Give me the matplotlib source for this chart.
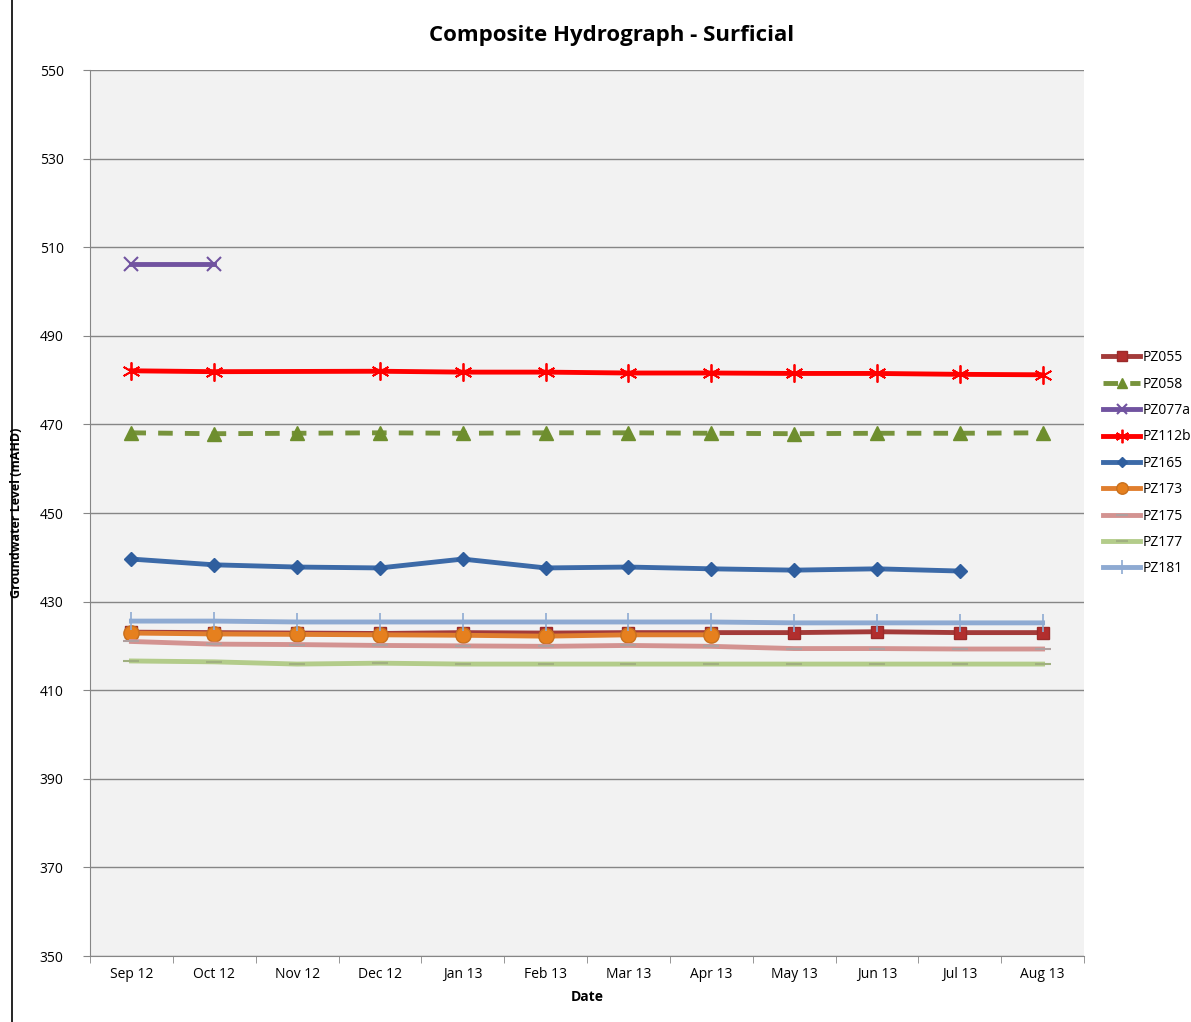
import matplotlib.pyplot as plt
from matplotlib.lines import Line2D

dates = ['Sep 12', 'Oct 12', 'Nov 12', 'Dec 12', 'Jan 13', 'Feb 13',
         'Mar 13', 'Apr 13', 'May 13', 'Jun 13', 'Jul 13', 'Aug 13']

pz055 = [423.1, 423.0, 422.9, 422.8, 423.0, 422.9, 423.0, 423.0, 423.0, 423.2, 423.0, 423.0]
pz058 = [468.1, 467.9, 468.0, 468.1, 468.0, 468.1, 468.1, 468.0, 467.9, 468.0, 468.0, 468.1]
pz077 = [506.2, 506.2]
pz112 = [482.1, 481.9, None, 482.0, 481.8, 481.8, 481.6, 481.6, 481.5, 481.5, 481.3, 481.2]
pz165 = [439.6, 438.3, 437.8, 437.6, 439.6, 437.6, 437.8, 437.4, 437.1, 437.4, 436.9]
pz173 = [422.9, 422.7, 422.6, 422.5, 422.4, 422.2, 422.5, 422.5]
pz175 = [421.0, 420.4, 420.3, 420.1, 420.0, 419.9, 420.1, 419.9, 419.4, 419.4, 419.3, 419.3]
pz177 = [416.6, 416.4, 415.9, 416.1, 415.9, 415.9, 415.9, 415.9, 415.9, 415.9, 415.9, 415.9]
pz181 = [425.6, 425.6, 425.4, 425.4, 425.4, 425.4, 425.4, 425.4, 425.2, 425.2, 425.2, 425.2]

plt.rcParams['font.family'] = ['Open Sans', 'DejaVu Sans']

fig = plt.figure(figsize=(11.91, 10.22), dpi=100)
ax = fig.add_axes([90 / 1191, 1 - 956 / 1022, 994 / 1191, 886 / 1022])
ax.set_facecolor('#F2F2F2')


def xs(vals):
    return [i for i, v in enumerate(vals) if v is not None]


def ys(vals):
    return [v for v in vals if v is not None]


series = [
    ('PZ055', pz055, dict(color='#A33B3A', marker='s', ms=9, mfc='#B22E2E', mec='#9B2A2A')),
    ('PZ058', pz058, dict(color='#77933C', marker='^', ms=10, ls=(0, (3, 2.5)), mfc='#6E8E2E', mec='#6E8E2E')),
    ('PZ077a', pz077, dict(color='#7153A0', marker='x', ms=10, mew=1.5)),
    ('PZ112b', pz112, dict(color='#FF0000', marker=(6, 2, 0), ms=13, mew=1.3)),
    ('PZ165', pz165, dict(color='#3C6AA8', marker='D', ms=7, mfc='#2F5E9E', mec='#2F5E9E')),
    ('PZ173', pz173, dict(color='#E07E2E', marker='o', ms=11, mfc='#E6801E', mec='#C8701E')),
    ('PZ175', pz175, dict(color='#D39391', marker='_', ms=12, mew=1.5, mec='#B0A0A0')),
    ('PZ177', pz177, dict(color='#B3CC8A', marker='_', ms=12, mew=1.5, mec='#A0B080')),
    ('PZ181', pz181, dict(color='#8EAAD2', marker='|', ms=13, mew=1.2, mec='#8EAAD2')),
]

for name, vals, style in series:
    ax.plot(xs(vals), ys(vals), lw=3.5, label=name, **style)

ax.set_xlim(-0.5, 11.5)
ax.set_ylim(350, 550)
ax.set_yticks(range(350, 551, 20))
ax.set_xticks(range(12))
ax.set_xticklabels(dates, fontsize=10)
ax.set_xticks([i + 0.5 for i in range(-1, 12)], minor=True)
ax.tick_params(axis='x', which='major', length=0, pad=8)
ax.tick_params(axis='x', which='minor', length=5, color='#868686')
ax.tick_params(axis='y', length=5, color='#868686', labelsize=10, pad=14)
ax.grid(axis='y', color='#868686', lw=1)
ax.set_axisbelow(True)
for side in ['top', 'right']:
    ax.spines[side].set_visible(False)
for side in ['left', 'bottom']:
    ax.spines[side].set_color('#868686')

ax.set_xlabel('Date', fontsize=10, fontweight='bold', labelpad=6)
ax.set_ylabel('Groundwater Level (mAHD)', fontsize=9, fontweight='bold', labelpad=12)
fig.text(612 / 1191, 1 - 36 / 1022, 'Composite Hydrograph - Surficial',
         ha='center', va='center', fontsize=16, fontweight='bold')

leg = ax.legend(loc='upper left', bbox_to_anchor=(1.014, 0.69), frameon=False,
                fontsize=10, handlelength=2.6, handletextpad=0.2, labelspacing=0.82,
                markerscale=0.75, borderaxespad=0)

fig.add_artist(Line2D([12 / 1191, 12 / 1191], [0, 1], color='black', lw=1.2))

fig.savefig('out.png', dpi=100)
